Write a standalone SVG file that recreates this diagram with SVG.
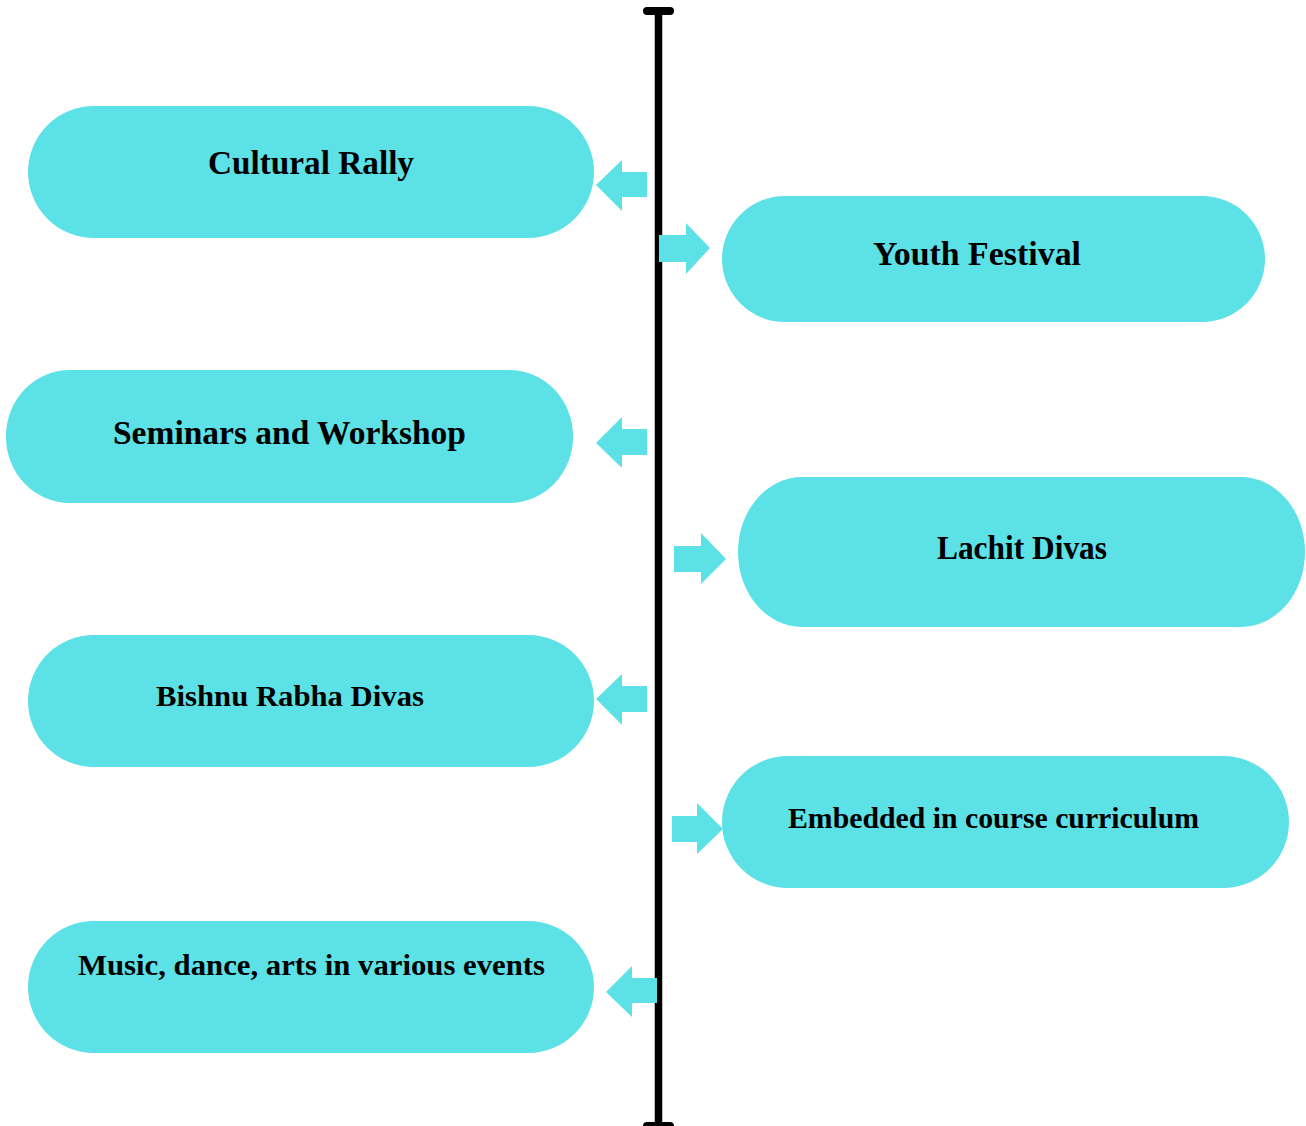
<svg xmlns="http://www.w3.org/2000/svg" width="1306" height="1126" viewBox="0 0 1306 1126">
<style>
.pill{fill:#5CE1E6}
.arr{fill:#5CE1E6}
.lbl{font-family:"Liberation Serif","Times New Roman",serif;font-weight:bold;fill:#000;text-anchor:middle}
.big{font-size:34px}
.sm{font-size:30px}
</style>
<rect width="1306" height="1126" fill="#fff"/>
<g id="timeline">
<line x1="658.5" y1="11" x2="658.5" y2="1126" stroke="#000" stroke-width="7.5"/>
<line x1="647" y1="11" x2="670" y2="11" stroke="#000" stroke-width="8" stroke-linecap="round"/>
<line x1="647" y1="1126" x2="670" y2="1126" stroke="#000" stroke-width="8" stroke-linecap="round"/>
</g>
<g id="connectors">
<polygon class="arr" points="647,172 622,172 622,160 596,185 622,211 622,197 647,197"/>
<polygon class="arr" points="659,235 686,235 686,223 710,248 686,274 686,262 659,262"/>
<polygon class="arr" points="647,429 622,429 622,417 596,443 622,468 622,455 647,455"/>
<polygon class="arr" points="674,546 701,546 701,533 726,559 701,584 701,572 674,572"/>
<polygon class="arr" points="647,686 622,686 622,674 596,699 622,725 622,712 647,712"/>
<polygon class="arr" points="672,816 697,816 697,803 723,829 697,854 697,842 672,842"/>
<polygon class="arr" points="657,978 632,978 632,966 606,992 632,1017 632,1003 657,1003"/>
</g>
<g id="node-cultural-rally">
<rect class="pill" x="28" y="106" width="566" height="132" rx="66" ry="66"/>
<text class="lbl big" x="311" y="174" textLength="206" lengthAdjust="spacingAndGlyphs">Cultural Rally</text>
</g>
<g id="node-youth-festival">
<rect class="pill" x="722" y="196" width="543" height="126" rx="63" ry="63"/>
<text class="lbl big" x="977" y="265" textLength="208" lengthAdjust="spacingAndGlyphs">Youth Festival</text>
</g>
<g id="node-seminars">
<rect class="pill" x="6" y="370" width="567" height="133" rx="64" ry="66"/>
<text class="lbl big" x="289.5" y="444" textLength="353" lengthAdjust="spacingAndGlyphs">Seminars and Workshop</text>
</g>
<g id="node-lachit">
<rect class="pill" x="738" y="477" width="567" height="150" rx="64" ry="75"/>
<text class="lbl big" x="1022" y="559" textLength="170" lengthAdjust="spacingAndGlyphs">Lachit Divas</text>
</g>
<g id="node-bishnu">
<rect class="pill" x="28" y="635" width="566" height="132" rx="66" ry="66"/>
<text class="lbl sm" x="290" y="706" textLength="268" lengthAdjust="spacingAndGlyphs">Bishnu Rabha Divas</text>
</g>
<g id="node-embedded">
<rect class="pill" x="722" y="756" width="567" height="132" rx="66" ry="66"/>
<text class="lbl sm" x="993.5" y="828" textLength="411" lengthAdjust="spacingAndGlyphs">Embedded in course curriculum</text>
</g>
<g id="node-music">
<rect class="pill" x="28" y="921" width="566" height="132" rx="66" ry="66"/>
<text class="lbl sm" x="311.5" y="975" textLength="467" lengthAdjust="spacingAndGlyphs">Music, dance, arts in various events</text>
</g>
</svg>
